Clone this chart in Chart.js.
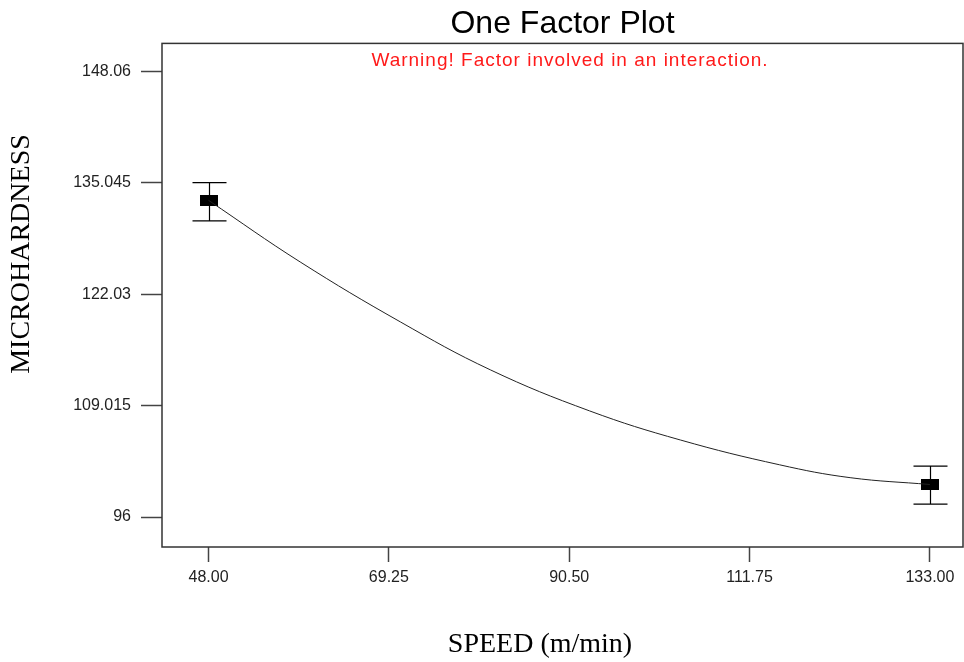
<!DOCTYPE html>
<html>
<head>
<meta charset="utf-8">
<title>One Factor Plot</title>
<script src="https://cdn.jsdelivr.net/npm/chart.js@4.4.1/dist/chart.umd.min.js"></script>
<style>
    html, body { margin: 0; padding: 0; background: #ffffff; overflow: hidden; }
    #factorChart { display: block; }
</style>
</head>
<body>
<canvas id="factorChart" width="964" height="662"></canvas>
<script>
// Dados
const speedTicks = [48, 69.25, 90.5, 111.75, 133];
const hardnessTicks = [96, 109.015, 122.03, 135.045, 148.06];

// curva do modelo (lida ponto a ponto)
const curveSpeed = [48, 58.8, 70.6, 81.2, 92.9, 103.6, 115.3, 123.6, 133];
const curveHardness = [133.0, 125.8, 118.8, 113.2, 108.4, 105.0, 102.1, 100.6, 99.8];

// médias e barras de erro
const meanSpeed = [48, 133];
const meanHardness = [132.95, 99.77];
const errLow = [130.6, 97.5];
const errHigh = [135.07, 101.95];

const warningText = 'Warning! Factor involved in an interaction.';
const xTitle = 'SPEED (m/min)';
const yTitle = 'MICROHARDNESS';

/**
 * Marcador retangular preto (igual ao do gráfico original)
 */
function makeMarker() {
    const c = document.createElement('canvas');
    c.width = 18;
    c.height = 11;
    const g = c.getContext('2d');
    g.fillStyle = '#000000';
    g.fillRect(0, 0, 18, 11);
    return c;
}

const serif = '"Liberation Serif", "Times New Roman", serif';

// Plugin: moldura da área, barras de erro, aviso e títulos dos eixos
const plotExtras = {
    id: 'plotExtras',
    beforeDatasetsDraw(chart) {
        const { ctx, scales } = chart;
        ctx.save();
        ctx.strokeStyle = '#000000';
        ctx.lineWidth = 1.2;
        meanSpeed.forEach((sp, i) => {
            const px = Math.round(scales.x.getPixelForValue(sp)) + 0.5;
            const top = scales.y.getPixelForValue(errHigh[i]);
            const bot = scales.y.getPixelForValue(errLow[i]);
            ctx.beginPath();
            ctx.moveTo(px, top);
            ctx.lineTo(px, bot);
            ctx.moveTo(px - 17, top);
            ctx.lineTo(px + 17, top);
            ctx.moveTo(px - 17, bot);
            ctx.lineTo(px + 17, bot);
            ctx.stroke();
        });
        ctx.restore();
    },
    afterDraw(chart) {
        const { ctx, chartArea } = chart;
        ctx.save();
        // moldura
        ctx.strokeStyle = '#333333';
        ctx.lineWidth = 1.5;
        ctx.strokeRect(chartArea.left, chartArea.top, chartArea.right - chartArea.left, chartArea.bottom - chartArea.top);
        // aviso em vermelho
        ctx.fillStyle = '#ff1a1a';
        ctx.font = '19px "Liberation Sans", Arial, sans-serif';
        ctx.letterSpacing = '1px';
        ctx.textAlign = 'center';
        ctx.textBaseline = 'middle';
        ctx.fillText(warningText, 570, chartArea.top + 17);
        ctx.letterSpacing = '0px';
        // títulos dos eixos (posição do original, fora do centro da área)
        ctx.fillStyle = '#000000';
        ctx.font = '28px ' + serif;
        ctx.fillText(xTitle, 540, 645);
        ctx.translate(22, 254);
        ctx.rotate(-Math.PI / 2);
        ctx.fillText(yTitle, 0, 0);
        ctx.restore();
    }
};

const tickFont = { family: '"Liberation Sans", Arial, sans-serif', size: 16 };

const ctx = document.getElementById('factorChart').getContext('2d');
const chart = new Chart(ctx, {
    type: 'scatter',
    data: {
        datasets: [
            {
                type: 'line',
                label: 'Modelo',
                data: curveSpeed.map((s, i) => ({ x: s, y: curveHardness[i] })),
                borderColor: '#222222',
                borderWidth: 1,
                pointRadius: 0,
                fill: false,
                tension: 0.4
            },
            {
                label: 'Média',
                data: meanSpeed.map((s, i) => ({ x: s, y: meanHardness[i] })),
                pointStyle: makeMarker(),
                pointRadius: 9,
                backgroundColor: '#000000',
                borderColor: '#000000'
            }
        ]
    },
    options: {
        responsive: false,
        animation: false,
        devicePixelRatio: 1,
        layout: { autoPadding: false, padding: { left: 0, right: 1, top: 0, bottom: 0 } },
        plugins: {
            legend: { display: false },
            tooltip: { enabled: false },
            title: {
                display: true,
                text: 'One Factor Plot',
                fullSize: false,
                color: '#000000',
                font: { family: '"Liberation Sans", Arial, sans-serif', size: 32, weight: 'normal' },
                padding: { top: 5, bottom: 0 }
            }
        },
        scales: {
            x: {
                type: 'linear',
                min: 42.52,
                max: 136.9,
                afterBuildTicks(scale) {
                    scale.ticks = speedTicks.map(v => ({ value: v }));
                },
                afterFit(scale) {
                    scale.height = 115;
                    scale.paddingLeft = 0;
                    scale.paddingRight = 0;
                },
                ticks: {
                    font: tickFont,
                    color: '#222222',
                    padding: 6,
                    maxRotation: 0,
                    callback: v => Number(v).toFixed(2)
                },
                grid: {
                    drawOnChartArea: false,
                    drawTicks: true,
                    tickLength: 15,
                    tickColor: '#444444',
                    tickWidth: 1.5
                },
                border: { display: false }
            },
            y: {
                type: 'linear',
                min: 92.5,
                max: 151.33,
                afterBuildTicks(scale) {
                    scale.ticks = hardnessTicks.map(v => ({ value: v }));
                },
                afterFit(scale) {
                    scale.width = 162;
                    scale.paddingTop = 0;
                    scale.paddingBottom = 0;
                },
                ticks: {
                    font: tickFont,
                    color: '#222222',
                    padding: 10,
                    callback: v => String(v)
                },
                grid: {
                    drawOnChartArea: false,
                    drawTicks: true,
                    tickLength: 21,
                    tickColor: '#444444',
                    tickWidth: 1.5
                },
                border: { display: false }
            }
        }
    },
    plugins: [plotExtras]
});
</script>
</body>
</html>
